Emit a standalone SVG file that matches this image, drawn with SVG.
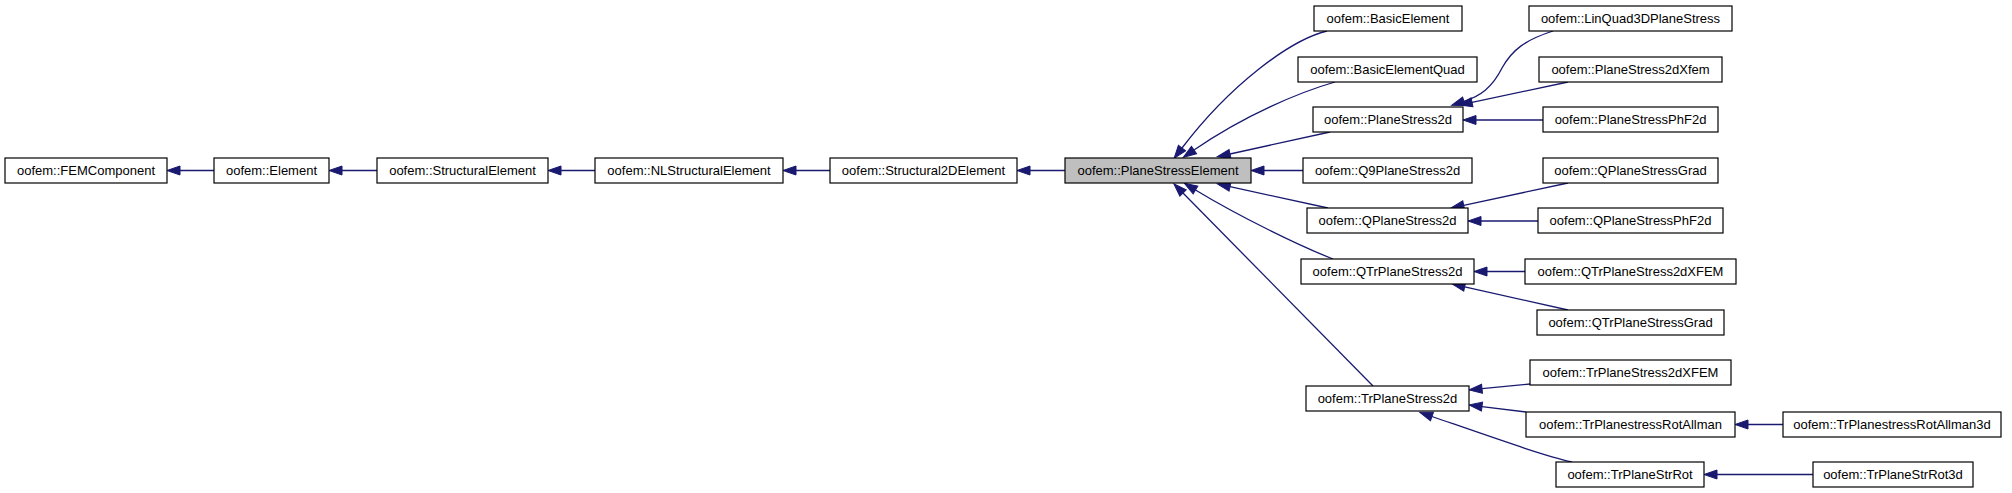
<svg xmlns="http://www.w3.org/2000/svg" width="2012" height="493" viewBox="0 0 2012 493">
<style>
.n rect{fill:#fff;stroke:#000;stroke-width:1.2}
.n.cur rect{fill:#bfbfbf}
.n text{font-family:"Liberation Sans",Arial,sans-serif;font-size:13px;fill:#000;text-anchor:middle}
.e path{fill:none;stroke:#191970;stroke-width:1.3;marker-end:url(#arr)}
</style>
<defs>
<marker id="arr" markerUnits="userSpaceOnUse" markerWidth="14" markerHeight="10" refX="0" refY="4.5" orient="auto" overflow="visible">
<path d="M0,0 L13,4.5 L0,9 z" fill="#191970" stroke="#191970" stroke-width="1"/>
</marker>
</defs>
<rect width="2012" height="493" fill="#fff"/>
<g class="e" id="edges">
<path d="M214,170.5 L180,170.5"/>
<path d="M377,170.5 L342,170.5"/>
<path d="M595,170.5 L561,170.5"/>
<path d="M830,170.5 L796,170.5"/>
<path d="M1065,170.5 L1030,170.5"/>
<path d="M1327,31 C1290,40 1230,85 1182,148"/>
<path d="M1335,82 C1300,92 1245,115 1194,150"/>
<path d="M1330,132 L1230,154"/>
<path d="M1303,170.5 L1264,170.5"/>
<path d="M1328,208 L1230,186.7"/>
<path d="M1333,259 C1300,246 1240,217 1195.5,190"/>
<path d="M1373,386 L1183,193"/>
<path d="M1553,31 C1525,40 1512,50 1502,68 C1492,88 1480,96 1464,101.3"/>
<path d="M1568,82 L1472,102.3"/>
<path d="M1543,120 L1476,120"/>
<path d="M1568,183 L1463.7,205.3"/>
<path d="M1538,221 L1481,221"/>
<path d="M1525,271.5 L1487,271.5"/>
<path d="M1568,310 L1464.7,286.8"/>
<path d="M1530,384 L1482,388.7"/>
<path d="M1526,412 L1482,406.6"/>
<path d="M1572,462 C1545,456 1500,440 1432,416.5"/>
<path d="M1783,424.5 L1748,424.5"/>
<path d="M1813,474.5 L1717,474.5"/>
</g>
<g class="n" id="FEMComponent"><rect x="5" y="158" width="162" height="25"/><text x="86" y="175">oofem::FEMComponent</text></g>
<g class="n" id="Element"><rect x="214" y="158" width="115" height="25"/><text x="271.5" y="175">oofem::Element</text></g>
<g class="n" id="StructuralElement"><rect x="377" y="158" width="171" height="25"/><text x="462.5" y="175">oofem::StructuralElement</text></g>
<g class="n" id="NLStructuralElement"><rect x="595" y="158" width="188" height="25"/><text x="689" y="175">oofem::NLStructuralElement</text></g>
<g class="n" id="Structural2DElement"><rect x="830" y="158" width="187" height="25"/><text x="923.5" y="175">oofem::Structural2DElement</text></g>
<g class="n cur" id="PlaneStressElement"><rect x="1065" y="158" width="186" height="25"/><text x="1158" y="175">oofem::PlaneStressElement</text></g>
<g class="n" id="BasicElement"><rect x="1314" y="6" width="148" height="25"/><text x="1388" y="23">oofem::BasicElement</text></g>
<g class="n" id="BasicElementQuad"><rect x="1298" y="57" width="179" height="25"/><text x="1387.5" y="74">oofem::BasicElementQuad</text></g>
<g class="n" id="PlaneStress2d"><rect x="1313" y="107" width="150" height="25"/><text x="1388" y="124">oofem::PlaneStress2d</text></g>
<g class="n" id="Q9PlaneStress2d"><rect x="1303" y="158" width="169" height="25"/><text x="1387.5" y="175">oofem::Q9PlaneStress2d</text></g>
<g class="n" id="QPlaneStress2d"><rect x="1307" y="208" width="161" height="25"/><text x="1387.5" y="225">oofem::QPlaneStress2d</text></g>
<g class="n" id="QTrPlaneStress2d"><rect x="1301" y="259" width="173" height="25"/><text x="1387.5" y="276">oofem::QTrPlaneStress2d</text></g>
<g class="n" id="TrPlaneStress2d"><rect x="1306" y="386" width="163" height="25"/><text x="1387.5" y="403">oofem::TrPlaneStress2d</text></g>
<g class="n" id="LinQuad3DPlaneStress"><rect x="1529" y="6" width="203" height="25"/><text x="1630.5" y="23">oofem::LinQuad3DPlaneStress</text></g>
<g class="n" id="PlaneStress2dXfem"><rect x="1539" y="57" width="183" height="25"/><text x="1630.5" y="74">oofem::PlaneStress2dXfem</text></g>
<g class="n" id="PlaneStressPhF2d"><rect x="1543" y="107" width="175" height="25"/><text x="1630.5" y="124">oofem::PlaneStressPhF2d</text></g>
<g class="n" id="QPlaneStressGrad"><rect x="1543" y="158" width="175" height="25"/><text x="1630.5" y="175">oofem::QPlaneStressGrad</text></g>
<g class="n" id="QPlaneStressPhF2d"><rect x="1538" y="208" width="185" height="25"/><text x="1630.5" y="225">oofem::QPlaneStressPhF2d</text></g>
<g class="n" id="QTrPlaneStress2dXFEM"><rect x="1525" y="259" width="211" height="25"/><text x="1630.5" y="276">oofem::QTrPlaneStress2dXFEM</text></g>
<g class="n" id="QTrPlaneStressGrad"><rect x="1537" y="310" width="187" height="25"/><text x="1630.5" y="327">oofem::QTrPlaneStressGrad</text></g>
<g class="n" id="TrPlaneStress2dXFEM"><rect x="1530" y="360" width="201" height="25"/><text x="1630.5" y="377">oofem::TrPlaneStress2dXFEM</text></g>
<g class="n" id="TrPlanestressRotAllman"><rect x="1526" y="412" width="209" height="25"/><text x="1630.5" y="429">oofem::TrPlanestressRotAllman</text></g>
<g class="n" id="TrPlaneStrRot"><rect x="1556" y="462" width="148" height="25"/><text x="1630" y="479">oofem::TrPlaneStrRot</text></g>
<g class="n" id="TrPlanestressRotAllman3d"><rect x="1783" y="412" width="218" height="25"/><text x="1892" y="429">oofem::TrPlanestressRotAllman3d</text></g>
<g class="n" id="TrPlaneStrRot3d"><rect x="1813" y="462" width="160" height="25"/><text x="1893" y="479">oofem::TrPlaneStrRot3d</text></g>
</svg>
